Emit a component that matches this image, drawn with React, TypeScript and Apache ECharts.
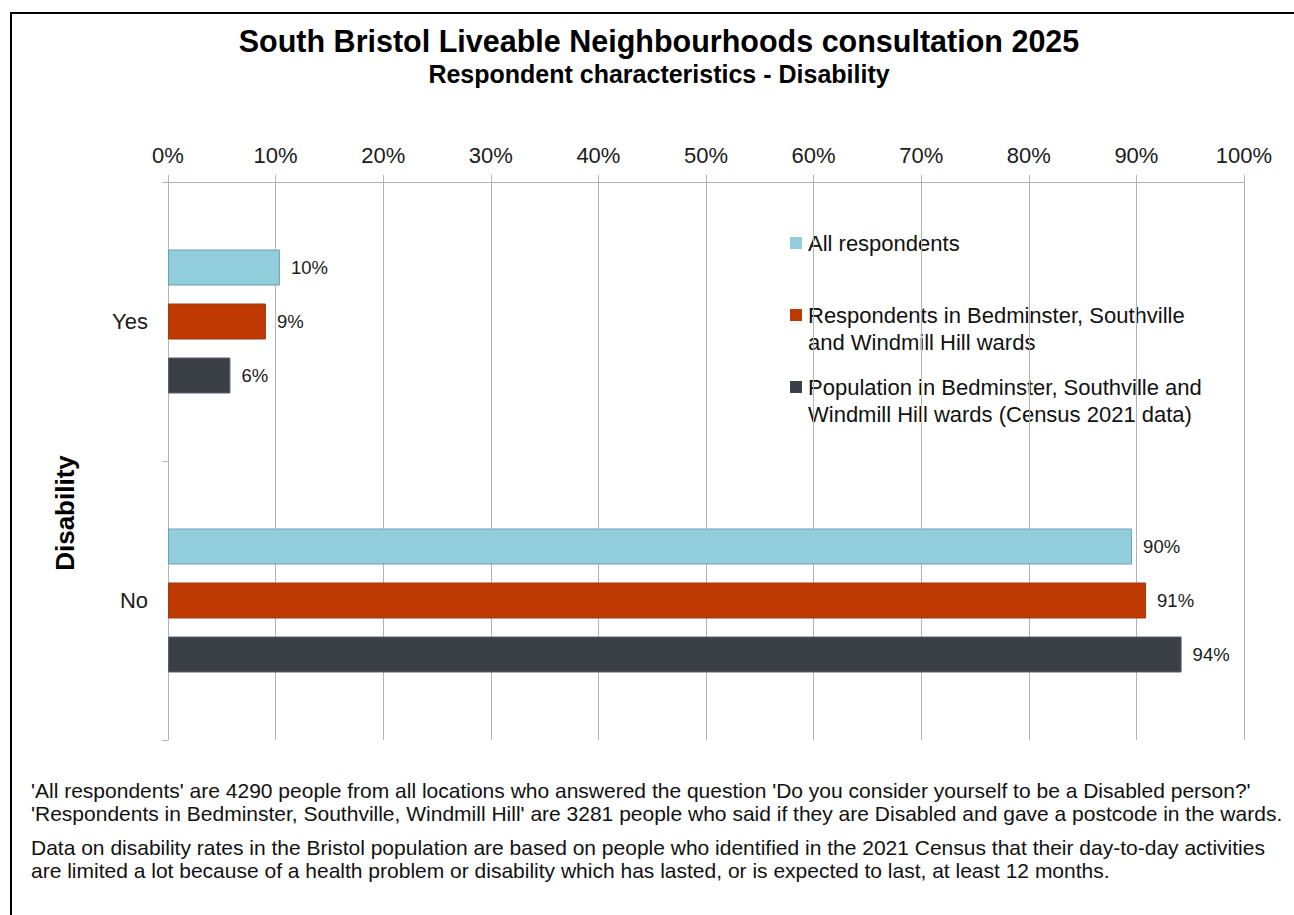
import React, { useEffect, useRef } from "react";
import * as echarts from "echarts";

const categories = ["Yes", "No"];
const seriesNames = [
  "All respondents",
  "Respondents in Bedminster, Southville\nand Windmill Hill wards",
  "Population in Bedminster, Southville and\nWindmill Hill wards (Census 2021 data)",
];
const allRespondents = [10.4, 89.6];
const bswRespondents = [9.1, 90.9];
const bswPopulation = [5.8, 94.2];
const seriesValues = [allRespondents, bswRespondents, bswPopulation];
const seriesColors = ["#92CDDC", "#BE3A02", "#3B3F46"];
const seriesBorders = ["#6e9fb0", "#9c3a12", "#5c6068"];
const xMin = 0;
const xMax = 100;
const xStep = 10;

const titleText = "South Bristol Liveable Neighbourhoods consultation 2025";
const subtitleText = "Respondent characteristics - Disability";
const axisNameText = "Disability";
const footnote1 = [
  "'All respondents' are 4290 people from all locations who answered the question 'Do you consider yourself to be a Disabled person?'",
  "'Respondents in Bedminster, Southville, Windmill Hill' are 3281 people who said if they are Disabled and gave a postcode in the wards.",
];
const footnote2 = [
  "Data on disability rates in the Bristol population are based on people who identified in the 2021 Census that their day-to-day activities",
  "are limited a lot because of a health problem or disability which has lasted, or is expected to last, at least 12 months.",
];

const FONT = "'Liberation Sans', Arial, Helvetica, sans-serif";
const GRID = "#b4b4b4";

export default function App() {
  const ref = useRef<HTMLDivElement>(null);
  useEffect(() => {
    if (!ref.current) return;
    const chart = echarts.init(ref.current, undefined, { renderer: "svg" });

    const legendY = [243, 315, 387];
    const legendItems: any[] = [];
    seriesNames.forEach((name, i) => {
      legendItems.push({
        type: "rect",
        shape: { x: 790, y: legendY[i] - 6, width: 12, height: 12 },
        style: { fill: seriesColors[i] },
      });
      legendItems.push({
        type: "text",
        x: 808,
        y: legendY[i] - 13.5,
        style: {
          text: name,
          font: `22px ${FONT}`,
          fill: "#111",
          lineHeight: 27,
          verticalAlign: "top",
          align: "left",
        },
      });
    });

    const option: any = {
      animation: false,
      backgroundColor: "#ffffff",
      textStyle: { fontFamily: FONT },
      grid: { left: 168, right: 50, top: 182, bottom: 175, containLabel: false },
      xAxis: {
        type: "value",
        position: "top",
        min: xMin,
        max: xMax,
        interval: xStep,
        axisLine: { show: true, lineStyle: { color: GRID, width: 1 } },
        axisTick: { show: true, length: 7, lineStyle: { color: GRID } },
        axisLabel: {
          formatter: "{value}%",
          fontSize: 22,
          color: "#1a1a1a",
          margin: 16,
          fontFamily: FONT,
        },
        splitLine: { show: true, lineStyle: { color: GRID, width: 1 } },
      },
      yAxis: {
        type: "category",
        data: categories,
        inverse: true,
        axisLine: { show: true, lineStyle: { color: GRID, width: 1 } },
        axisTick: { show: true, length: 6, lineStyle: { color: GRID } },
        axisLabel: { fontSize: 22, color: "#1a1a1a", margin: 20, fontFamily: FONT },
        splitLine: { show: false },
      },
      series: seriesValues.map((vals, i) => ({
        type: "bar",
        name: seriesNames[i],
        data: vals,
        barWidth: 36,
        barGap: "50%",
        itemStyle: { color: seriesColors[i], borderColor: seriesBorders[i], borderWidth: 1 },
        label: {
          show: true,
          position: "right",
          distance: 11,
          fontSize: 18.5,
          color: "#1a1a1a",
          fontFamily: FONT,
          formatter: (p: any) => `${Math.round(p.value)}%`,
        },
      })),
      graphic: [
        {
          type: "rect",
          z: 200,
          shape: { x: 11, y: 13, width: 1400, height: 1000 },
          style: { fill: "none", stroke: "#000", lineWidth: 2 },
        },
        {
          type: "text",
          z: 200,
          x: 659,
          y: 41,
          style: {
            text: titleText,
            font: `bold 30.5px ${FONT}`,
            fill: "#000",
            align: "center",
            verticalAlign: "middle",
          },
        },
        {
          type: "text",
          z: 200,
          x: 659,
          y: 74,
          style: {
            text: subtitleText,
            font: `bold 25px ${FONT}`,
            fill: "#000",
            align: "center",
            verticalAlign: "middle",
          },
        },
        {
          type: "text",
          z: 200,
          x: 65,
          y: 513,
          rotation: Math.PI / 2,
          style: {
            text: axisNameText,
            font: `bold 26px ${FONT}`,
            fill: "#000",
            align: "center",
            verticalAlign: "middle",
          },
        },
        {
          type: "group",
          z: 150,
          children: [
            {
              type: "rect",
              shape: { x: 783, y: 225, width: 452, height: 208 },
              style: { fill: "#ffffff" },
            },
            ...legendItems,
          ],
        },
        {
          type: "text",
          z: 200,
          x: 31,
          y: 778.5,
          style: {
            text: footnote1.join("\n"),
            font: `21px ${FONT}`,
            lineHeight: 23,
            fill: "#111",
            align: "left",
            verticalAlign: "top",
          },
        },
        {
          type: "text",
          z: 200,
          x: 31,
          y: 835.5,
          style: {
            text: footnote2.join("\n"),
            font: `21px ${FONT}`,
            lineHeight: 23,
            fill: "#111",
            align: "left",
            verticalAlign: "top",
          },
        },
      ],
    };
    chart.setOption(option);
    return () => chart.dispose();
  }, []);

  return (
    <div
      ref={ref}
      style={{ position: "absolute", left: 0, top: 0, width: 1294, height: 915, background: "#fff" }}
    />
  );
}
